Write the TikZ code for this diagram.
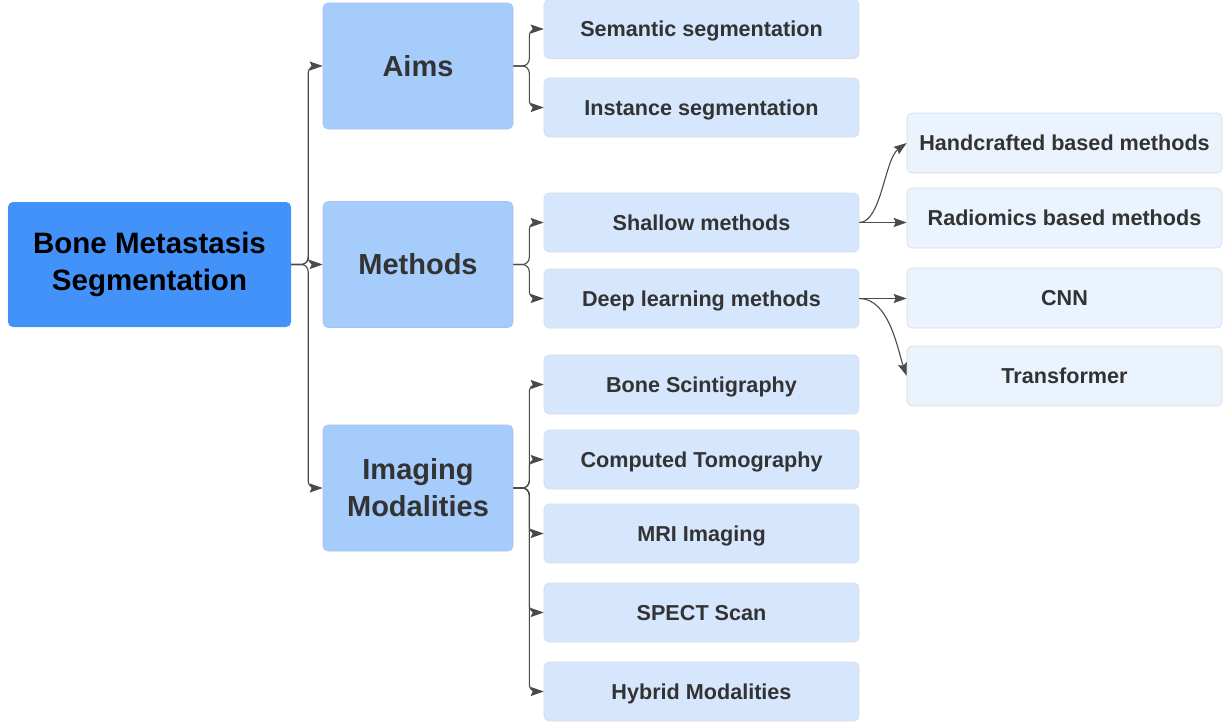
\documentclass[tikz,border=0pt]{standalone}
\usepackage{fontspec}
\setmainfont{Liberation Sans}
\usetikzlibrary{arrows.meta}
\definecolor{rootblue}{HTML}{4392F9}
\definecolor{lvlone}{HTML}{A6CCFC}
\definecolor{lvltwo}{HTML}{D6E7FD}
\definecolor{lvlthree}{HTML}{EAF3FE}
\definecolor{edgegray}{HTML}{D5DCE5}
\definecolor{linegray}{HTML}{4A4A4A}
\definecolor{textgray}{HTML}{333333}
\tikzset{
  rootbox/.style={fill=rootblue, rounded corners=5pt, minimum width=283pt, minimum height=125pt,
    inner sep=0pt, align=center, text=black, font=\bfseries\fontsize{29.5}{37}\selectfont},
  topicbox/.style={fill=lvlone, draw=lvlone!90!gray, line width=0.6pt, rounded corners=5pt,
    minimum width=190pt, minimum height=126pt, inner sep=0pt, align=center, text=textgray,
    font=\bfseries\fontsize{29}{37}\selectfont},
  itembox/.style={fill=lvltwo, draw=edgegray, line width=0.6pt, rounded corners=5pt,
    minimum width=315pt, minimum height=59pt, inner sep=0pt, text=textgray,
    text height=15.5pt, text depth=0pt,
    font=\bfseries\fontsize{21.6}{26}\selectfont},
  leafbox/.style={fill=lvlthree, draw=edgegray, line width=0.6pt, rounded corners=5pt,
    minimum width=315pt, minimum height=60pt, inner sep=0pt, text=textgray,
    text height=15.5pt, text depth=0pt,
    font=\bfseries\fontsize{21.6}{26}\selectfont},
  conn/.style={draw=linegray, line width=1.1pt, rounded corners=7pt,
    -{Stealth[length=13pt,width=9pt,inset=2pt]}},
  curveconn/.style={draw=linegray, line width=1.1pt,
    -{Stealth[length=13pt,width=9pt,inset=2pt]}}
}
\begin{document}
\begin{tikzpicture}[x=1pt,y=-1pt]
\useasboundingbox (0,0) rectangle (1224,723);

% root
\node[rootbox] (root) at (149.5,264.5) {Bone Metastasis\\Segmentation};

% first level
\node[topicbox] (aims) at (418,66) {Aims};
\node[topicbox] (methods) at (418,264.5) {Methods};
\node[topicbox] (imaging) at (418,488) {Imaging\\Modalities};

% second level
\node[itembox] (sem) at (701.5,29) {Semantic segmentation};
\node[itembox] (inst) at (701.5,107.5) {Instance segmentation};
\node[itembox] (shallow) at (701.5,222.5) {Shallow methods};
\node[itembox] (deep) at (701.5,298.5) {Deep learning methods};
\node[itembox] (scint) at (701.5,384.5) {Bone Scintigraphy};
\node[itembox] (ct) at (701.5,459.5) {Computed Tomography};
\node[itembox] (mri) at (701.5,533.5) {MRI Imaging};
\node[itembox] (spect) at (701.5,612.5) {SPECT Scan};
\node[itembox] (hybrid) at (701.5,691.5) {Hybrid Modalities};

% third level
\node[leafbox] (hand) at (1064.5,143) {Handcrafted based methods};
\node[leafbox] (radio) at (1064.5,218) {Radiomics based methods};
\node[leafbox] (cnn) at (1064.5,298) {CNN};
\node[leafbox] (trans) at (1064.5,376) {Transformer};

% root branches
\foreach \t in {aims,methods,imaging}
  \draw[conn] (root.east) -- ++(17,0) |- (\t.west);

% aims branches
\foreach \t in {sem,inst}
  \draw[conn] (aims.east) -- ++(16,0) |- (\t.west);

% methods branches
\foreach \t in {shallow,deep}
  \draw[conn] (methods.east) -- ++(16,0) |- (\t.west);

% modality branches
\foreach \t in {scint,ct,mri,spect,hybrid}
  \draw[conn] (imaging.east) -- ++(16,0) |- (\t.west);

% shallow methods
\draw[curveconn] (shallow.east) .. controls +(22,0) and +(-22,16) .. (hand.west);
\draw[curveconn] (shallow.east) -- (shallow.east -| radio.west);

% deep learning methods
\draw[curveconn] (deep.east) -- (deep.east -| cnn.west);
\draw[curveconn] (deep.east) .. controls +(30,0) and +(-9,-26) .. (trans.west);
\end{tikzpicture}
\end{document}
